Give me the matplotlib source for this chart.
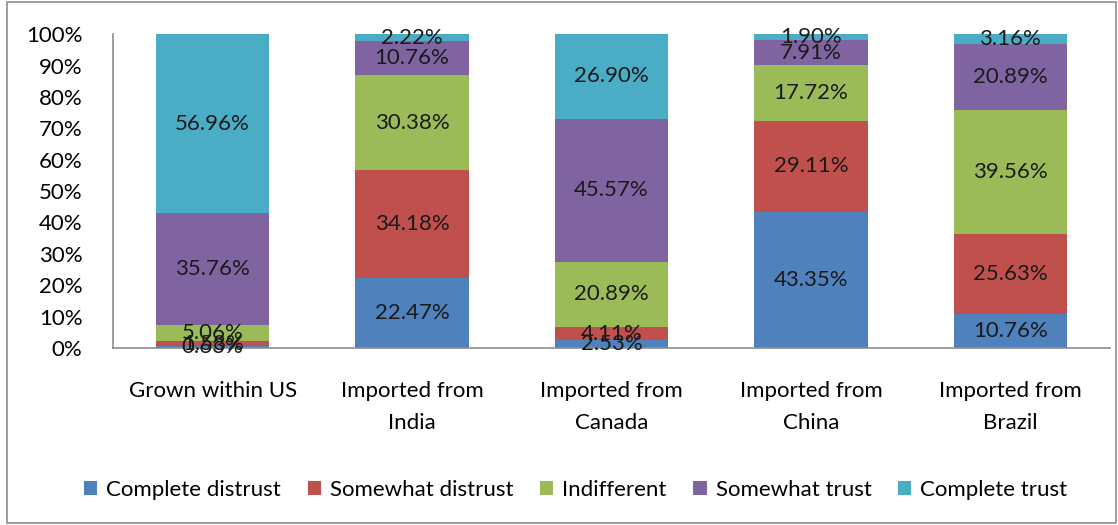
import matplotlib
matplotlib.use("Agg")
import matplotlib.pyplot as plt
from matplotlib.patches import Rectangle
import numpy as np

categories = ["Grown within US", "Imported from\nIndia", "Imported from\nCanada",
              "Imported from\nChina", "Imported from\nBrazil"]
series_names = ["Complete distrust", "Somewhat distrust", "Indifferent",
                "Somewhat trust", "Complete trust"]
complete_distrust = [0.63, 22.47, 2.53, 43.35, 10.76]
somewhat_distrust = [1.58, 34.18, 4.11, 29.11, 25.63]
indifferent = [5.06, 30.38, 20.89, 17.72, 39.56]
somewhat_trust = [35.76, 10.76, 45.57, 7.91, 20.89]
complete_trust = [56.96, 2.22, 26.90, 1.90, 3.16]
y_ticks = [0, 10, 20, 30, 40, 50, 60, 70, 80, 90, 100]

colors = ["#4F81BD", "#C0504D", "#9BBB59", "#8064A2", "#4BACC6"]
values = [complete_distrust, somewhat_distrust, indifferent, somewhat_trust, complete_trust]

plt.rcParams["font.family"] = ["Lato", "DejaVu Sans"]
FS = 16

fig = plt.figure(figsize=(11.18, 5.25), dpi=100)
ax = fig.add_axes([0.101, 0.337, 0.892, 0.598])

x = np.arange(len(categories))
bottom = np.zeros(len(categories))
for name, vals, col in zip(series_names, values, colors):
    vals = np.array(vals)
    ax.bar(x, vals, width=0.57, bottom=bottom, color=col, label=name)
    for xi, b, v in zip(x, bottom, vals):
        ax.text(xi, b + v / 2, f"{v:.2f}%", ha="center", va="center",
                fontsize=FS, color="#1a1a1a")
    bottom += vals

ax.set_xlim(-0.5, len(categories) - 0.5)
ax.set_ylim(0, 100)
ax.set_yticks(y_ticks)
ax.set_yticklabels([f"{t}%" for t in y_ticks], fontsize=FS)
ax.set_xticks(x)
ax.set_xticklabels(categories, fontsize=FS, linespacing=1.75)
ax.tick_params(axis="x", length=0, pad=24)
ax.tick_params(axis="y", length=0, pad=22)
for s in ["top", "right"]:
    ax.spines[s].set_visible(False)
for s in ["left", "bottom"]:
    ax.spines[s].set_color("#8c8c8c")
    ax.spines[s].set_linewidth(1.2)

fig.legend(loc="center", bbox_to_anchor=(0.515, 0.067), ncol=5, frameon=False,
           fontsize=FS, handlelength=0.6, handleheight=0.6, handletextpad=0.4,
           columnspacing=1.2)

fig.patches.append(Rectangle((0.006, 0.004), 0.992, 0.992, transform=fig.transFigure,
                             fill=False, edgecolor="#8c8c8c", linewidth=1.2))

fig.savefig("out.png", dpi=100)
